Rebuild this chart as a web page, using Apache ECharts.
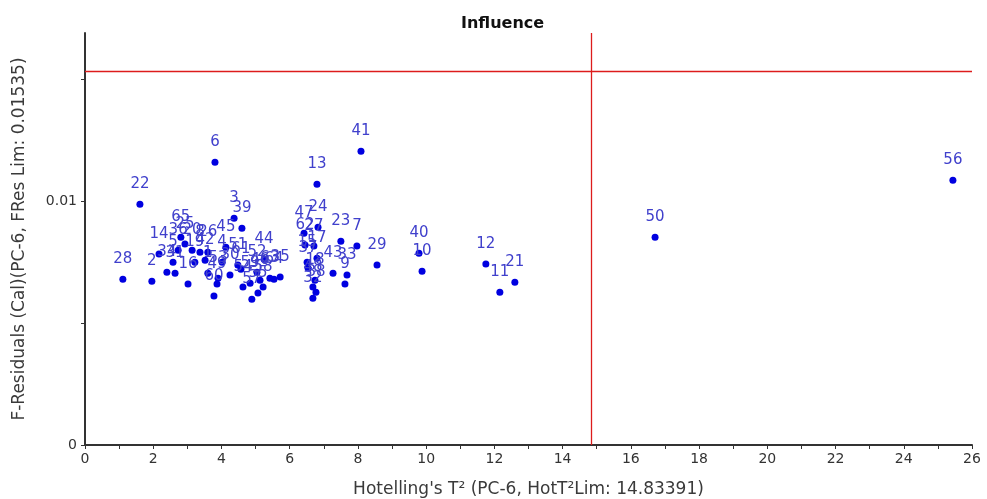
<!DOCTYPE html>
<html>
<head>
<meta charset="utf-8">
<title>Influence</title>
<script src="https://cdn.jsdelivr.net/npm/echarts@6/dist/echarts.min.js"></script>
<style>
  html, body { margin: 0; padding: 0; background: #ffffff; }
  #chart { width: 987px; height: 499px; }
</style>
</head>
<body>
<div id="chart"></div>
<script>
// Sample numbers, Hotelling's T² and F-residuals (calibration, PC-6)
const sampleIds = [
  28, 2, 22, 6, 41, 13, 56, 50, 12, 11, 21, 40, 10, 29, 23, 7, 43, 33, 9,
  24, 47, 62, 27, 15, 17, 37, 18, 48, 38, 32,
  14, 5, 31, 16, 65, 25, 36, 20, 19, 8, 42, 26, 1, 53, 60, 49, 45, 4, 30,
  3, 39, 51, 61, 54, 59, 57, 52, 46, 58, 55, 44, 63, 35, 64, 34
];
const hotellingT2 = [
  1.11, 1.96, 1.61, 3.81, 8.09, 6.80, 25.44, 16.71, 11.75, 12.16, 12.60, 9.79, 9.88, 8.56, 7.50, 7.97, 7.27, 7.68, 7.62,
  6.83, 6.42, 6.45, 6.71, 6.51, 6.80, 6.54, 6.74, 6.68, 6.77, 6.68,
  2.17, 2.58, 2.64, 3.02, 2.81, 2.93, 2.73, 3.14, 3.22, 3.37, 3.52, 3.60, 3.60, 3.90, 3.78, 3.87, 4.13, 4.02, 4.25,
  4.37, 4.60, 4.48, 4.57, 4.63, 4.84, 4.89, 5.04, 5.13, 5.22, 5.07, 5.25, 5.42, 5.72, 5.54, 2.40
];
const fResiduals = [
  0.00680, 0.00672, 0.00988, 0.01160, 0.01205, 0.01070, 0.01086, 0.00852, 0.00742, 0.00627, 0.00668, 0.00787, 0.00713, 0.00738, 0.00836, 0.00816, 0.00705, 0.00697, 0.00660,
  0.00893, 0.00869, 0.00820, 0.00816, 0.00750, 0.00766, 0.00725, 0.00676, 0.00648, 0.00627, 0.00602,
  0.00783, 0.00750, 0.00705, 0.00660, 0.00852, 0.00824, 0.00799, 0.00799, 0.00750, 0.00791, 0.00758, 0.00791, 0.00705, 0.00684, 0.00611, 0.00660, 0.00811, 0.00750, 0.00697,
  0.00930, 0.00889, 0.00738, 0.00721, 0.00648, 0.00664, 0.00598, 0.00709, 0.00676, 0.00648, 0.00623, 0.00762, 0.00684, 0.00689, 0.00680, 0.00709
];

// Critical limits
const hotT2Limit = 14.83391;
const fResLimit = 0.01535;

// Axis ranges and tick steps
const xMin = 0, xMax = 26, xStep = 1;
const yMin = 0, yMax = 0.0169, yStep = 0.005;
const xLabelStep = 2;
const yLabelValues = [0, 0.01];

const points = sampleIds.map((id, i) => ({ name: String(id), value: [hotellingT2[i], fResiduals[i]] }));

const chart = echarts.init(document.getElementById('chart'), null, { renderer: 'canvas' });

const FONT = 'DejaVu Sans, Verdana, sans-serif';
const tickFont = { fontFamily: FONT, fontSize: 14, color: '#333333' };
const nameFont = { fontFamily: FONT, fontSize: 17, color: '#3a3a3a' };

chart.setOption({
  backgroundColor: '#ffffff',
  animation: false,
  title: {
    text: 'Influence',
    left: 456,
    top: 11,
    textStyle: { fontFamily: FONT, fontSize: 16, fontWeight: 'bold', color: '#111111' }
  },
  grid: { left: 85, right: 15, top: 33, bottom: 54, containLabel: false, outerBoundsMode: 'none' },
  xAxis: {
    type: 'value',
    min: xMin, max: xMax, interval: xStep,
    name: "Hotelling's T² (PC-6, HotT²Lim: 14.83391)",
    nameLocation: 'middle',
    nameGap: 36,
    nameTextStyle: nameFont,
    axisLine: { show: true, onZero: false, lineStyle: { color: '#333333', width: 2 } },
    axisTick: { show: true, length: 4, lineStyle: { color: '#333333', width: 1 } },
    axisLabel: Object.assign({
      margin: 7,
      formatter: v => (Math.round(v) % xLabelStep === 0 ? String(Math.round(v)) : '')
    }, tickFont),
    splitLine: { show: false }
  },
  yAxis: {
    type: 'value',
    min: yMin, max: yMax, interval: yStep,
    name: 'F-Residuals (Cal)(PC-6, FRes Lim: 0.01535)',
    nameLocation: 'middle',
    nameGap: 57,
    nameTextStyle: nameFont,
    axisLine: { show: true, onZero: false, lineStyle: { color: '#333333', width: 2 } },
    axisTick: { show: true, length: 4, lineStyle: { color: '#333333', width: 1 } },
    axisLabel: Object.assign({
      margin: 8,
      showMaxLabel: false,
      formatter: v => {
        const hit = yLabelValues.find(t => Math.abs(t - v) < 1e-9);
        return hit === undefined ? '' : String(hit);
      }
    }, tickFont),
    splitLine: { show: false }
  },
  series: [{
    type: 'scatter',
    data: points,
    symbol: 'circle',
    symbolSize: 7,
    itemStyle: { color: '#0000e0', opacity: 1 },
    label: {
      show: true,
      position: 'top',
      distance: 9,
      formatter: p => p.name,
      fontFamily: FONT,
      fontSize: 15,
      color: '#4040cc'
    },
    labelLayout: { hideOverlap: false },
    markLine: {
      silent: true,
      symbol: ['none', 'none'],
      label: { show: false },
      lineStyle: { color: '#dd1c1c', width: 1.3, type: 'solid' },
      data: [
        [{ coord: [hotT2Limit, yMin] }, { coord: [hotT2Limit, yMax] }],
        [{ coord: [xMin, fResLimit] }, { coord: [xMax, fResLimit] }]
      ]
    }
  }]
});
</script>
</body>
</html>
